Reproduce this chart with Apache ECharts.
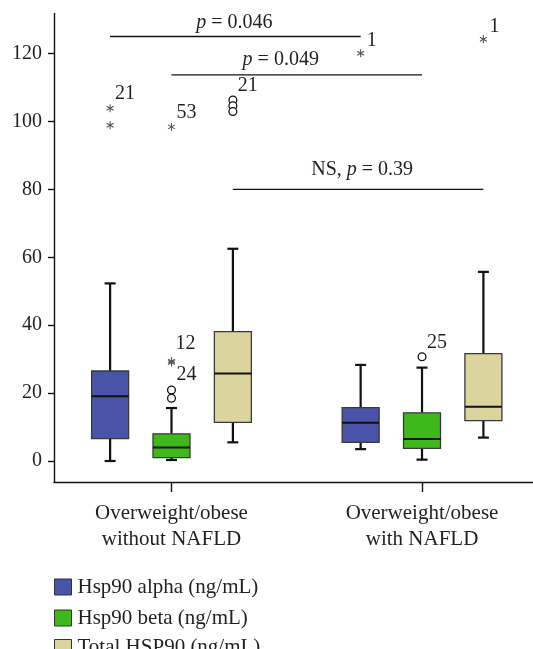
<!DOCTYPE html>
<html><head><meta charset="utf-8">
<script src="https://cdn.jsdelivr.net/npm/echarts@6/dist/echarts.min.js"></script>
<style>html,body{margin:0;padding:0;background:#fff}#c{width:533px;height:649px}</style>
</head><body><div id="c"></div>
<script>
// ---------- data ----------
const categories = ['Overweight/obese\nwithout NAFLD', 'Overweight/obese\nwith NAFLD'];
const groupPositions = [1, 2];
const seriesNames = ['Hsp90 alpha (ng/mL)', 'Hsp90 beta (ng/mL)', 'Total HSP90 (ng/mL)'];
// [min, Q1, median, Q3, max] for each group
const alphaBox = [[0, 6.6, 19.1, 26.5, 52.3], [3.5, 5.5, 11.3, 15.7, 28.3]];
const betaBox  = [[0.3, 1.0, 4.0, 8.0, 15.6], [0.4, 3.7, 6.5, 14.2, 27.5]];
const totalBox = [[5.5, 11.4, 25.8, 38.1, 62.5], [6.9, 11.9, 16.0, 31.6, 55.7]];
// outliers: [group index, series index, value, kind, case label]
const outliers = [
  [0, 0, 103.9, 'extreme', '21'], [0, 0, 98.9, 'extreme', ''],
  [0, 1, 98.4, 'extreme', '53'], [0, 1, 29.4, 'extreme', '12'], [0, 1, 29.0, 'extreme', '24'],
  [0, 1, 20.9, 'outlier', ''], [0, 1, 18.5, 'outlier', ''],
  [0, 2, 106.3, 'outlier', '21'], [0, 2, 104.6, 'outlier', ''], [0, 2, 102.9, 'outlier', ''],
  [1, 0, 120.1, 'extreme', '1'], [1, 1, 30.7, 'outlier', '25'], [1, 2, 124.2, 'extreme', '1']
];
const yTicks = [0, 20, 40, 60, 80, 100, 120];
// comparisons: [series index, bracket height, label]
const comparisons = [[0, 125, 'p = 0.046'], [1, 113.7, 'p = 0.049'], [2, 80, 'NS, p = 0.39']];

// ---------- style ----------
const FONT = '"Liberation Serif", "DejaVu Serif", serif';
const TXT = '#231f20';
const colors = ['#4953a7', '#3fb81c', '#dcd49e'];
const seriesOffset = [-0.245, 0, 0.245];
const boxHalf = 18.5, capHalf = 5.5;
const labelShift = { '12': [4, -17], '24': [5, 12], '1': [6, -12] };
const defaultShift = [5, -14];
const compShift = [[-1, -14], [-16, -15], [4, -20]];
const legendTops = [576.5, 607.5, 637];
const boxes = [alphaBox, betaBox, totalBox];

function richLabel(s) { return s.replace(/\bp\b/, '{i|p}'); }

const chart = echarts.init(document.getElementById('c'), null, { renderer: 'canvas' });

const series = [];
boxes.forEach((b, i) => {
  series.push({
    name: seriesNames[i],
    type: 'custom',
    itemStyle: { color: colors[i] },
    encode: { x: 0, y: [1, 2, 3, 4, 5] },
    data: groupPositions.map((g, k) => [g].concat(b[k])),
    renderItem: function (params, api) {
      const x = api.value(0) + seriesOffset[i];
      const p = [1, 2, 3, 4, 5].map(d => api.coord([x, api.value(d)]));
      const cx = p[0][0];
      const yMin = p[0][1], yQ1 = p[1][1], yMed = p[2][1], yQ3 = p[3][1], yMax = p[4][1];
      const ls = { stroke: '#111', lineWidth: 2.2 };
      return { type: 'group', children: [
        { type: 'line', shape: { x1: cx, y1: yQ1, x2: cx, y2: yMin }, style: ls },
        { type: 'line', shape: { x1: cx - capHalf, y1: yMin, x2: cx + capHalf, y2: yMin }, style: ls },
        { type: 'line', shape: { x1: cx, y1: yQ3, x2: cx, y2: yMax }, style: ls },
        { type: 'line', shape: { x1: cx - capHalf, y1: yMax, x2: cx + capHalf, y2: yMax }, style: ls },
        { type: 'rect', shape: { x: cx - boxHalf, y: yQ3, width: 2 * boxHalf, height: yQ1 - yQ3 },
          style: { fill: colors[i], stroke: '#3a3a3a', lineWidth: 1.3 } },
        { type: 'line', shape: { x1: cx - boxHalf, y1: yMed, x2: cx + boxHalf, y2: yMed }, style: { stroke: '#111', lineWidth: 2 } }
      ] };
    },
    z: 2
  });
});

series.push({
  name: 'outliers',
  type: 'custom',
  encode: { x: 0, y: 1 },
  data: outliers.map(o => [groupPositions[o[0]], o[2]]),
  renderItem: function (params, api) {
    const o = outliers[params.dataIndex];
    const pt = api.coord([api.value(0) + seriesOffset[o[1]], api.value(1)]);
    const cx = pt[0], cy = pt[1];
    const children = [];
    if (o[3] === 'outlier') {
      children.push({ type: 'circle', shape: { cx: cx, cy: cy, r: 3.9 }, style: { fill: '#fff', stroke: '#111', lineWidth: 1.3 } });
    } else {
      const r = 4;
      [90, 30, 150].forEach(a => {
        const rad = a * Math.PI / 180;
        const dx = r * Math.cos(rad), dy = r * Math.sin(rad);
        children.push({ type: 'line', shape: { x1: cx - dx, y1: cy - dy, x2: cx + dx, y2: cy + dy }, style: { stroke: '#555', lineWidth: 1.1 } });
      });
    }
    if (o[4]) {
      const sh = labelShift[o[4]] || defaultShift;
      children.push({ type: 'text', x: cx + sh[0], y: cy + sh[1],
        style: { text: o[4], fontSize: 20, fontFamily: FONT, fill: TXT, align: 'left', verticalAlign: 'middle' } });
    }
    return { type: 'group', children: children };
  },
  z: 3
});

series.push({
  name: 'comparisons',
  type: 'custom',
  encode: { x: 0, y: 1 },
  data: comparisons.map(c => [groupPositions[0] + seriesOffset[c[0]], c[1], groupPositions[1] + seriesOffset[c[0]]]),
  renderItem: function (params, api) {
    const c = comparisons[params.dataIndex];
    const a = api.coord([api.value(0), api.value(1)]);
    const b = api.coord([api.value(2), api.value(1)]);
    const sh = compShift[params.dataIndex];
    return { type: 'group', children: [
      { type: 'line', shape: { x1: a[0], y1: a[1], x2: b[0], y2: b[1] }, style: { stroke: '#111', lineWidth: 1.4 } },
      { type: 'text', x: (a[0] + b[0]) / 2 + sh[0], y: a[1] + sh[1],
        style: { text: richLabel(c[2]), fontSize: 20, fontFamily: FONT, fill: TXT, align: 'center', verticalAlign: 'middle',
          rich: { i: { fontStyle: 'italic', fontSize: 20, fontFamily: FONT, fill: TXT } } } }
    ] };
  },
  z: 3
});

chart.setOption({
  animation: false,
  backgroundColor: '#fff',
  grid: { left: 54, right: 0, top: 13.5, bottom: 167 },
  legend: seriesNames.map((n, i) => ({
    orient: 'vertical', left: 54, top: legendTops[i], padding: 0,
    itemWidth: 17, itemHeight: 16, selectedMode: false, icon: 'rect',
    textStyle: { fontSize: 21, fontFamily: FONT, color: TXT, padding: [0, 0, 0, 1] },
    data: [{ name: n, itemStyle: { color: colors[i], borderColor: '#333', borderWidth: 1 } }]
  })),
  xAxis: {
    type: 'value', min: 0.531, max: 2.443,
    splitLine: { show: false },
    axisLine: { onZero: false, lineStyle: { color: '#111', width: 1.4 } },
    axisTick: { customValues: groupPositions, length: 10, lineStyle: { color: '#111', width: 1.4 } },
    axisLabel: { customValues: groupPositions, formatter: v => categories[groupPositions.indexOf(v)] || '',
      fontSize: 21, fontFamily: FONT, color: TXT, lineHeight: 26.5, margin: 18 }
  },
  yAxis: {
    type: 'value', min: -6.18, max: 131.78,
    splitLine: { show: false },
    axisLine: { show: true, onZero: false, lineStyle: { color: '#111', width: 1.4 } },
    axisTick: { show: true, customValues: yTicks, length: 6, lineStyle: { color: '#111', width: 1.4 } },
    axisLabel: { customValues: yTicks, fontSize: 20, fontFamily: FONT, color: TXT, margin: 12 }
  },
  series: series
});
</script></body></html>
